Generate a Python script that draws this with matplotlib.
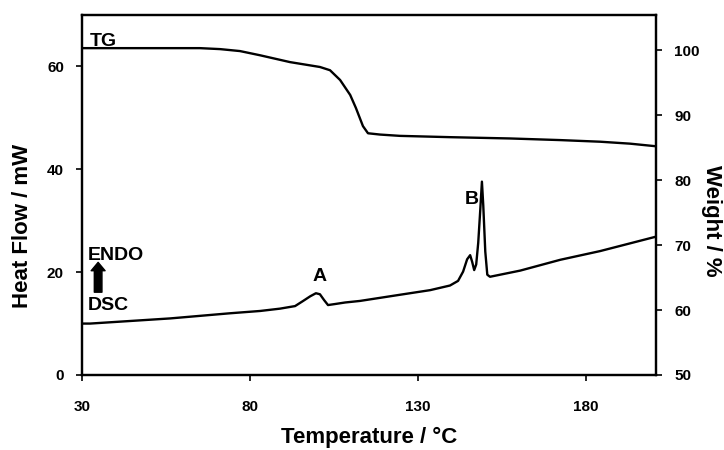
import matplotlib
matplotlib.use("Agg")
import matplotlib.pyplot as plt

plt.rcParams['font.family'] = ['Liberation Sans', 'DejaVu Sans']

# TG curve (weight %, right axis)
tg_temp = [30.0, 65.1, 71.1, 77.0, 83.0, 91.9, 100.8, 103.8, 106.8, 109.8, 111.5,
           112.7, 113.6, 115.1, 118.7, 124.6, 139.5, 157.4, 172.3, 184.2, 193.1, 200.8]
tg_weight = [100.3, 100.3, 100.15, 99.85, 99.2, 98.15, 97.4, 96.9, 95.4, 93.1, 91.1,
             89.5, 88.3, 87.2, 87.0, 86.8, 86.6, 86.4, 86.15, 85.9, 85.6, 85.2]

# DSC curve (heat flow mW, left axis)
dsc_temp = [30.0, 32.4, 44.3, 56.2, 65.1, 74.0, 83.0, 88.9, 93.4, 95.8, 97.9, 99.6,
            100.8, 102.0, 103.2, 105.3, 108.3, 112.7, 124.6, 133.6, 139.5, 141.9,
            143.4, 144.6, 145.5, 146.1, 146.7, 147.3, 147.9, 148.5, 149.0, 149.4,
            150.0, 150.6, 151.4, 160.4, 172.3, 184.2, 193.1, 200.8]
dsc_hf = [10.0, 10.0, 10.5, 11.0, 11.5, 12.0, 12.45, 12.9, 13.4, 14.4, 15.3, 15.9,
          15.7, 14.6, 13.6, 13.8, 14.1, 14.4, 15.6, 16.5, 17.4, 18.3,
          20.1, 22.5, 23.3, 22.0, 20.4, 21.5, 25.7, 32.0, 37.6, 33.0,
          24.0, 19.5, 19.1, 20.3, 22.4, 24.1, 25.6, 26.9]

x_ticks = [30, 80, 130, 180]
left_ticks = [0, 20, 40, 60]
right_ticks = [50, 60, 70, 80, 90, 100]

fig = plt.figure(figsize=(7.24, 4.5), dpi=100)
ax = fig.add_axes([82/724, 1-375/450, (656-82)/724, (375-15)/450])
ax2 = ax.twinx()

ax.plot(dsc_temp, dsc_hf, color='black', lw=1.7)
ax2.plot(tg_temp, tg_weight, color='black', lw=1.7)

ax.set_xlim(30, 200.8)
ax.set_ylim(0, 70)
ax2.set_ylim(50, 105.4)

ax.set_xticks(x_ticks)
ax.set_yticks(left_ticks)
ax2.set_yticks(right_ticks)

for a in (ax, ax2):
    for s in a.spines.values():
        s.set_linewidth(1.6)
    a.tick_params(direction='out', length=4, width=1.2, labelsize=11, pad=9)
    a.tick_params(axis='x', pad=14)
    for lab in a.get_xticklabels() + a.get_yticklabels():
        lab.set_fontweight('bold')

ax.set_xlabel('Temperature / \u00b0C', fontsize=16, fontweight='bold', va='center')
ax.xaxis.set_label_coords(0.5, -62/360, transform=ax.transAxes)
ax.set_ylabel('Heat Flow / mW', fontsize=16, fontweight='bold', va='center')
ax.yaxis.set_label_coords((23-82)/574, (375-226)/360, transform=ax.transAxes)
ax2.set_ylabel('Weight / %', fontsize=16, fontweight='bold', rotation=270, va='center')
ax2.yaxis.set_label_coords((712-82)/574, (375-221)/360, transform=ax.transAxes)

ax.text(32.4, 64.8, 'TG', fontsize=14, fontweight='bold', va='center', ha='left')
ax.text(31.6, 23.2, 'ENDO', fontsize=14, fontweight='bold', va='center', ha='left')
ax.text(31.6, 13.6, 'DSC', fontsize=14, fontweight='bold', va='center', ha='left')
ax.text(100.8, 19.1, 'A', fontsize=14, fontweight='bold', va='center', ha='center')
ax.text(146.1, 34.2, 'B', fontsize=14, fontweight='bold', va='center', ha='center')

ax.annotate('', xy=(34.8, 21.9), xytext=(34.8, 16.1),
            arrowprops=dict(arrowstyle='simple,head_width=1.0,head_length=0.6,tail_width=0.55',
                            color='black', shrinkA=0, shrinkB=0))

fig.savefig('out.png', dpi=100)
